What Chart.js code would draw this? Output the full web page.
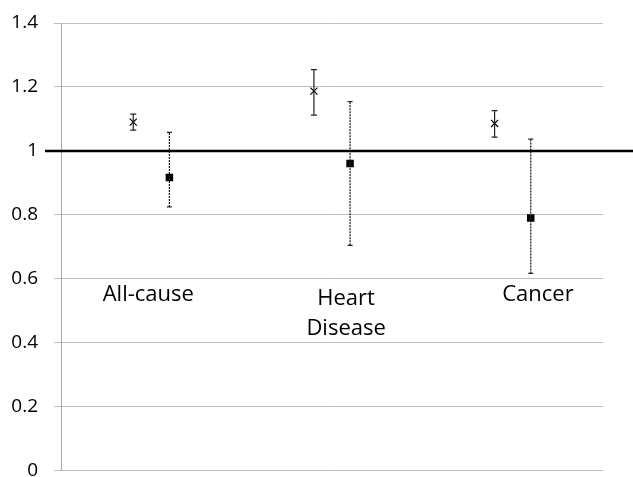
<!DOCTYPE html>
<html>
<head>
<meta charset="utf-8">
<script src="https://cdn.jsdelivr.net/npm/chart.js@4/dist/chart.umd.min.js"></script>
<style>
  html, body { margin: 0; padding: 0; background: #fff; }
  #wrap { width: 633px; height: 477px; }
</style>
</head>
<body>
<div id="wrap"><canvas id="c" width="633" height="477"></canvas></div>
<script>
// ---- data ----
const categories = ['All-cause', 'Heart Disease', 'Cancer'];
const seriesA = [1.090, 1.187, 1.086];
const lowA    = [1.065, 1.112, 1.043];
const highA   = [1.115, 1.254, 1.126];
const seriesB = [0.917, 0.961, 0.790];
const lowB    = [0.825, 0.705, 0.617];
const highB   = [1.058, 1.154, 1.037];
const yTicks  = [0, 0.2, 0.4, 0.6, 0.8, 1, 1.2, 1.4];
const referenceValue = 1;

const FONT = '"Open Sans"';
const OFFSET = 0.1;

const datasets = [];
categories.forEach((c, i) => {
  datasets.push({
    type: 'line',
    data: [{x: i + 1 - OFFSET, y: lowA[i]}, {x: i + 1 - OFFSET, y: highA[i]}],
    borderColor: '#222', borderWidth: 1.2, showLine: true,
    pointStyle: 'line', pointRadius: 3, pointBorderColor: '#222', pointBorderWidth: 1.2,
    pointHoverRadius: 3
  });
  datasets.push({
    type: 'line',
    data: [{x: i + 1 + OFFSET, y: lowB[i]}, {x: i + 1 + OFFSET, y: highB[i]}],
    borderColor: '#222', borderWidth: 1.3, borderDash: [2, 1], showLine: true,
    pointStyle: 'line', pointRadius: 2.5, pointBorderColor: '#222', pointBorderWidth: 1.2,
    pointHoverRadius: 2.5
  });
});
datasets.push({
  type: 'scatter',
  data: seriesA.map((v, i) => ({x: i + 1 - OFFSET, y: v})),
  pointStyle: 'crossRot', pointRadius: 5, borderColor: '#000', borderWidth: 1.2,
  backgroundColor: '#000'
});
datasets.push({
  type: 'scatter',
  data: seriesB.map((v, i) => ({x: i + 1 + OFFSET, y: v})),
  pointStyle: 'rect', pointRadius: 5.3, borderColor: '#000', borderWidth: 0,
  backgroundColor: '#000'
});

const refLine = {
  id: 'refLine',
  afterDatasetsDraw(chart) {
    const y = chart.scales.y.getPixelForValue(referenceValue);
    const ctx = chart.ctx;
    ctx.save();
    ctx.strokeStyle = '#000';
    ctx.lineWidth = 2.5;
    ctx.beginPath();
    ctx.moveTo(chart.chartArea.left - 16, y);
    ctx.lineTo(chart.width, y);
    ctx.stroke();
    ctx.restore();
  }
};

const labelShift = [-0.017, 0.078, 0.14];
const catLabels = {
  id: 'catLabels',
  afterDatasetsDraw(chart) {
    const xs = chart.scales.x, ys = chart.scales.y;
    const ctx = chart.ctx;
    ctx.save();
    ctx.fillStyle = '#000';
    ctx.font = '22px ' + FONT;
    ctx.textAlign = 'center';
    ctx.textBaseline = 'alphabetic';
    categories.forEach((c, i) => {
      const x = xs.getPixelForValue(i + 1 + labelShift[i]);
      const words = c.split(' ');
      const y0 = ys.getPixelForValue(0.53) + (words.length > 1 ? 4 : 0);
      words.forEach((w, k) => ctx.fillText(w, x, y0 + k * 30));
    });
    ctx.restore();
  }
};

new Chart(document.getElementById('c'), {
  data: { datasets },
  options: {
    responsive: false,
    animation: false,
    events: [],
    layout: { padding: { left: 0, top: 23, right: 30, bottom: 5 } },
    plugins: { legend: { display: false }, tooltip: { enabled: false } },
    scales: {
      x: { type: 'linear', min: 0.5, max: 3.5, display: false },
      y: {
        type: 'linear', min: 0, max: 1.4,
        afterBuildTicks: s => { s.ticks = yTicks.map(v => ({value: v})); },
        ticks: {
          color: '#000', padding: 16,
          font: { family: FONT, size: 19 },
          callback: v => String(Math.round(v * 10) / 10)
        },
        grid: { color: '#bfbfbf', lineWidth: 1, tickLength: 7, drawTicks: true },
        border: { color: '#a6a6a6', width: 1 },
        afterFit: s => { s.width = 61; s.paddingTop = 0; s.paddingBottom = 0; }
      }
    }
  },
  plugins: [refLine, catLabels]
});
</script>
</body>
</html>
